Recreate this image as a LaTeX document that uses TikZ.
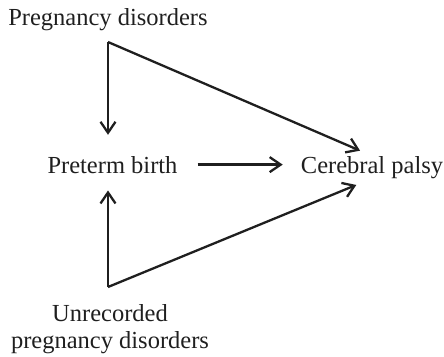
\documentclass[tikz,border=0pt]{standalone}
\usepackage{fontspec}
\setmainfont{Liberation Serif}
\usetikzlibrary{arrows.meta,calc}
\begin{document}
\begin{tikzpicture}[x=1pt,y=-1pt,
  lbl/.style={inner sep=0pt,font=\fontsize{24.5}{27.5}\selectfont,text=black!88,align=center},
  link/.style={line width=2.3pt,draw=black!88,line join=miter},
  arr/.style={link,-{Straight Barb[length=11pt,width=15pt,line width=2.3pt]}}]
\useasboundingbox (0,0) rectangle (444,356);
\node[lbl,anchor=base] (pd) at (108,25) {Pregnancy disorders};
\node[lbl,anchor=base] (pb) at (112.5,173) {Preterm birth};
\node[lbl,anchor=base] (cp) at (372,173) {Cerebral palsy};
\node[lbl,anchor=north] (upd) at (110,304) {Unrecorded\\pregnancy disorders};
\coordinate (c1) at (108,42);
\coordinate (c2) at (108,287);
\draw[arr,shorten >=21pt] (c1) -- (c1 |- pb.north);
\draw[arr,shorten >=13pt] (c1) -- (cp.north);
\draw[arr,shorten >=17pt] (c2) -- (c2 |- pb.south);
\draw[arr,shorten >=17pt] (c2) -- (cp.south);
\draw[arr,shorten <=20pt,shorten >=18pt] (pb.east) -- (pb.east -| cp.west);
\end{tikzpicture}
\end{document}
